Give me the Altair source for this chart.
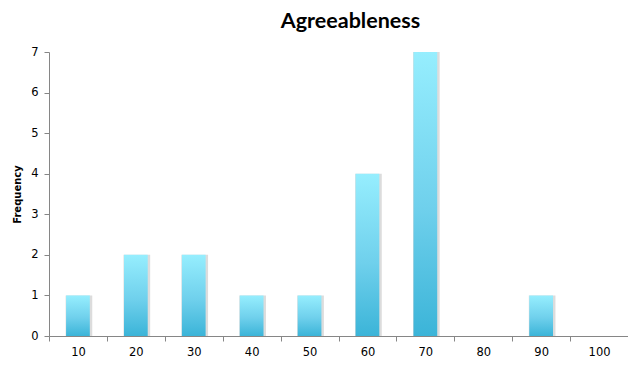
import altair as alt
import pandas as pd

bins = ["10", "20", "30", "40", "50", "60", "70", "80", "90", "100"]
freq = [1, 2, 2, 1, 1, 4, 7, 0, 1, 0]
y_ticks = [0, 1, 2, 3, 4, 5, 6, 7]

df = pd.DataFrame({"bin": bins, "freq": freq})

axis_col = "#868686"

x_enc = alt.X(
    "bin:O",
    sort=bins,
    scale=alt.Scale(paddingInner=0, paddingOuter=0),
    axis=alt.Axis(
        title=None, labelAngle=0, tickBand="extent", tickSize=5,
        domainColor=axis_col, tickColor=axis_col, labelColor="#000000",
        labelFont="DejaVu Sans", labelFontSize=11.5, labelPadding=5,
    ),
)
y_enc = alt.Y(
    "freq:Q",
    scale=alt.Scale(domain=[0, 7], nice=False),
    axis=alt.Axis(
        title="Frequency", values=y_ticks, grid=False, tickSize=5,
        domainColor=axis_col, tickColor=axis_col, labelColor="#000000",
        labelFont="DejaVu Sans", labelFontSize=11.5, labelPadding=6,
        titleFont="DejaVu Sans", titleFontSize=10, titleFontWeight="bold",
        titlePadding=8,
    ),
)

grad = alt.Gradient(
    gradient="linear",
    stops=[
        alt.GradientStop(color="#3BB4D8", offset=0),
        alt.GradientStop(color="#6FD0EC", offset=0.45),
        alt.GradientStop(color="#96EEFE", offset=1),
    ],
    x1=0, x2=0, y1=1, y2=0,
)

shadow = alt.Chart(df).mark_bar(
    width=alt.RelativeBandSize(0.46), color="#dcdcdc", xOffset=1
).encode(x=x_enc, y=y_enc)

bars = alt.Chart(df).mark_bar(
    width=alt.RelativeBandSize(0.41), color=grad
).encode(x=x_enc, y=y_enc)

chart = alt.layer(shadow, bars).properties(
    width=579,
    height=284,
    autosize="none",
    padding={"left": 41, "top": 44, "right": 0, "bottom": 22},
    title=alt.Title(
        "Agreeableness", font="Lato", fontSize=21.5, fontWeight="bold",
        color="#000000", anchor="middle", offset=14, dx=12,
    ),
).configure_view(stroke=None)

chart.save("out.html", embed_options={"renderer": "svg", "actions": False})
